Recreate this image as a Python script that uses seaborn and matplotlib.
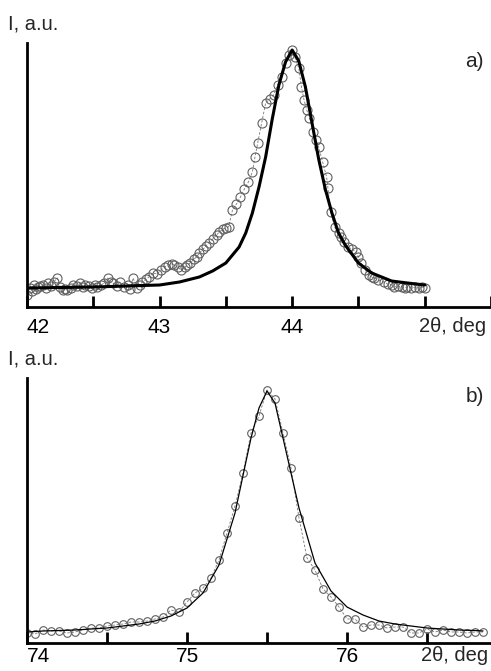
# XRD peak profiles: measured points vs. fitted curve, two reflections

import matplotlib
matplotlib.use('Agg')
import matplotlib.pyplot as plt
import seaborn as sns

# panel a) - measured points (2theta, intensity)
a_x = [42.00, 42.02, 42.04, 42.05, 42.07, 42.08, 42.10, 42.12, 42.14, 42.16, 42.18, 42.20,
       42.23, 42.25, 42.27, 42.29, 42.30, 42.33, 42.35, 42.38, 42.40, 42.42, 42.44, 42.47,
       42.49, 42.51, 42.53, 42.56, 42.58, 42.61, 42.63, 42.65, 42.68, 42.70, 42.73, 42.76,
       42.78, 42.80, 42.83, 42.85, 42.87, 42.90, 42.92, 42.95, 42.98, 43.01, 43.04, 43.06,
       43.09, 43.11, 43.14, 43.16, 43.19, 43.21, 43.23, 43.26, 43.28, 43.30, 43.33, 43.35,
       43.37, 43.40, 43.43, 43.45, 43.48, 43.50, 43.52, 43.55, 43.58, 43.61, 43.64, 43.67,
       43.70, 43.72, 43.74, 43.77, 43.80, 43.83, 43.86, 43.89, 43.92, 43.95, 43.98, 44.00,
       44.02, 44.05, 44.07, 44.09, 44.11, 44.13, 44.16, 44.18, 44.20, 44.23, 44.26, 44.27,
       44.29, 44.32, 44.35, 44.37, 44.39, 44.42, 44.45, 44.48, 44.50, 44.52, 44.55, 44.58,
       44.60, 44.62, 44.65, 44.69, 44.72, 44.75, 44.77, 44.80, 44.83, 44.85, 44.87, 44.90,
       44.93, 44.96, 44.98, 45.00]
a_y = [12, 19, 16, 22, 18, 20, 21, 22, 19, 24, 21, 25,
       29, 20, 17, 18, 17, 19, 22, 21, 24, 20, 22, 21,
       19, 22, 20, 22, 24, 29, 25, 24, 21, 25, 20, 22,
       18, 29, 19, 22, 25, 28, 30, 34, 33, 37, 40, 42,
       43, 42, 40, 37, 40, 42, 44, 48, 50, 54, 58, 61,
       64, 68, 72, 75, 78, 79, 80, 97, 103, 110, 118, 125,
       135, 150, 164, 184, 204, 208, 212, 222, 230, 244, 252, 257,
       250, 239, 220, 207, 197, 189, 175, 167, 160, 145, 130, 119,
       95, 80, 74, 70, 65, 60, 58, 55, 50, 44, 37, 32,
       30, 29, 27, 25, 23, 22, 20, 21, 20, 19, 20, 19,
       20, 19, 20, 19]

# panel a) - fitted profile
a_fit_x = [42.0, 42.25, 42.5, 42.75, 43.0, 43.15, 43.3, 43.4, 43.5, 43.6, 43.65, 43.7, 43.75,
           43.8, 43.85, 43.9, 43.95, 44.0, 44.05, 44.1, 44.15, 44.2, 44.25, 44.3, 44.35, 44.4,
           44.5, 44.6, 44.75, 44.87, 45.0]
a_fit_y = [19, 19.5, 20, 21, 22, 25, 30, 36, 44, 60, 74, 94, 120,
           150, 188, 222, 245, 257, 246, 220, 184, 148, 118, 94, 74, 62,
           44, 34, 26, 24, 22]

# panel b) - measured points
b_x = [74.00, 74.05, 74.10, 74.15, 74.20, 74.25, 74.30, 74.35, 74.40, 74.45, 74.50, 74.55,
       74.60, 74.65, 74.70, 74.75, 74.80, 74.85, 74.90, 74.95, 75.00, 75.05, 75.10, 75.15,
       75.20, 75.25, 75.30, 75.35, 75.40, 75.45, 75.50, 75.55, 75.60, 75.65, 75.70, 75.75,
       75.80, 75.85, 75.90, 75.95, 76.00, 76.05, 76.10, 76.15, 76.20, 76.25, 76.30, 76.35,
       76.40, 76.45, 76.50, 76.55, 76.60, 76.65, 76.70, 76.75, 76.80, 76.85]
b_y = [10, 9, 13, 12, 12, 10, 11, 13, 15, 15, 17, 18,
       19, 21, 21, 22, 24, 26, 33, 31, 41, 50, 55, 65,
       83, 110, 137, 170, 210, 227, 253, 244, 210, 175, 125, 85,
       73, 54, 46, 36, 24, 24, 16, 18, 18, 15, 16, 16,
       10, 10, 14, 11, 13, 11, 11, 10, 11, 11]

# panel b) - fitted profile
b_fit_x = [74.0, 74.1, 74.2, 74.3, 74.4, 74.5, 74.6, 74.7, 74.8, 74.9, 75.0, 75.1, 75.2,
           75.3, 75.4, 75.45, 75.5, 75.55, 75.6, 75.7, 75.8, 75.9, 76.0, 76.1, 76.2, 76.3,
           76.4, 76.5, 76.6, 76.7, 76.8, 76.85]
b_fit_y = [11, 12, 12.5, 13, 14, 15, 17, 19, 22, 27, 35, 50, 78,
           130, 205, 235, 252, 240, 205, 135, 80, 52, 36, 28, 22, 19,
           17, 15, 14, 13, 12.5, 12]

a_ticks = [42, 42.5, 43, 43.5, 44, 44.5, 45, 45.5]
a_labels = ['42', '', '43', '', '44', '', '', '']
b_ticks = [74, 74.5, 75, 75.5, 76, 76.5]
b_labels = ['74', '', '75', '', '76', '']

sns.set_style('white')
plt.rcParams['font.family'] = ['Liberation Sans', 'DejaVu Sans']

fig = plt.figure(figsize=(4.91, 6.71), dpi=100)
ax_a = fig.add_axes([27 / 491, 1 - 307 / 671, 464 / 491, 264 / 671])
ax_b = fig.add_axes([27 / 491, 1 - 643 / 671, 464 / 491, 265 / 671])

panels = [
    (ax_a, a_x, a_y, a_fit_x, a_fit_y, (42, 45.5), 264, a_ticks, a_labels, 45, 'a)', 2.2, 6.5, 8),
    (ax_b, b_x, b_y, b_fit_x, b_fit_y, (74, 76.9), 265, b_ticks, b_labels, 76.5, 'b)', 0.9, 5.5, 3),
]

for ax, x, y, fx, fy, xlim, ytop, ticks, labels, deg_pos, tag, fit_lw, msize, pad in panels:
    # measured points joined by a thin dashed line
    sns.lineplot(x=x, y=y, ax=ax, sort=False, color='#777777', linewidth=0.6,
                 linestyle=(0, (3, 2)), marker='o', markersize=msize,
                 markerfacecolor='none', markeredgecolor='#606060', markeredgewidth=0.8)
    # fitted profile
    sns.lineplot(x=fx, y=fy, ax=ax, sort=False, color='black', linewidth=fit_lw)

    ax.set_xlim(*xlim)
    ax.set_ylim(0, ytop)
    ax.set_xticks(ticks)
    ax.set_xticklabels(labels)
    ax.set_yticks([])
    ax.tick_params(axis='x', direction='in', length=8, width=2, pad=pad,
                   labelsize=15, bottom=True, colors='black')
    # first label cannot hang past the left edge, so it starts at the axis
    ax.get_xticklabels()[0].set_horizontalalignment('left')
    for side in ['top', 'right']:
        ax.spines[side].set_visible(False)
    for side in ['left', 'bottom']:
        ax.spines[side].set_linewidth(2)
        ax.spines[side].set_color('black')
    ax.set_xlabel('')
    ax.set_ylabel('')
    ax.patch.set_alpha(0)

    # "2θ, deg" label sits under the last labelled tick, same line as the numbers
    ax.annotate('2θ, deg', xy=(deg_pos, 0), xycoords=('data', 'axes fraction'),
                xytext=(-4, -pad + 0.5), textcoords='offset points',
                ha='left', va='top', fontsize=14.5)
    ax.text(0.985, 0.965, tag, transform=ax.transAxes, ha='right', va='top', fontsize=15)
    ax.text(-0.04, 1.035, 'I, a.u.', transform=ax.transAxes, ha='left', va='bottom',
            fontsize=14.5)

fig.savefig('out.png', dpi=100)
